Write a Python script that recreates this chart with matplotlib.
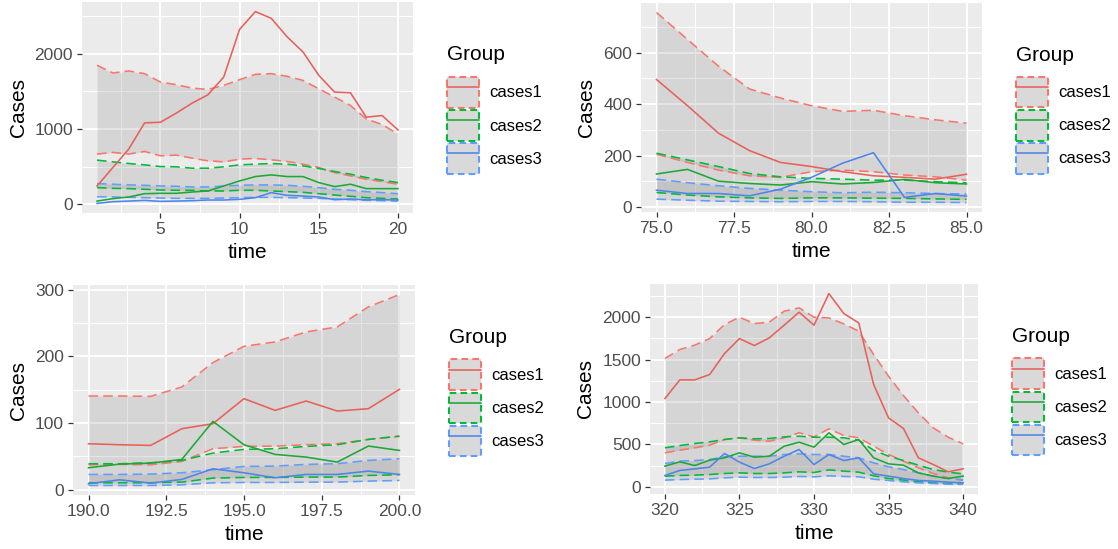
import numpy as np
import matplotlib
matplotlib.use("Agg")
import matplotlib.pyplot as plt
from matplotlib.patches import Patch
from matplotlib.lines import Line2D
from matplotlib.ticker import FixedLocator

plt.rcParams['font.family'] = ['Liberation Sans', 'DejaVu Sans']

GROUPS = ["cases1", "cases2", "cases3"]
COLOURS = ["#F8766D", "#00BA38", "#619CFF"]
LINE_COLOURS = ["#E8605A", "#1DA836", "#4C86E8"]

# ---- window 1: days 1-20 ----
p1_time = list(range(1, 21))
p1_cases1 = [244, 489, 733, 1080, 1089, 1209, 1342, 1453, 1689, 2320, 2556, 2467, 2222, 2022, 1711, 1489, 1480, 1156, 1178, 987]
p1_lo1 = [667, 689, 667, 702, 644, 653, 613, 578, 564, 600, 609, 591, 569, 533, 489, 422, 378, 333, 302, 267]
p1_hi1 = [1844, 1742, 1769, 1733, 1622, 1587, 1542, 1524, 1578, 1653, 1724, 1733, 1698, 1644, 1533, 1422, 1311, 1133, 1058, 933]
p1_cases2 = [44, 76, 98, 142, 147, 147, 164, 178, 244, 311, 369, 391, 369, 369, 289, 236, 267, 209, 209, 209]
p1_lo2 = [222, 213, 209, 200, 191, 187, 187, 178, 178, 187, 187, 178, 169, 160, 142, 124, 107, 89, 80, 71]
p1_hi2 = [587, 564, 542, 524, 502, 498, 480, 480, 498, 524, 533, 542, 533, 511, 476, 436, 400, 356, 320, 289]
p1_cases3 = [13, 36, 44, 53, 40, 44, 49, 58, 58, 67, 89, 156, 120, 111, 98, 62, 71, 62, 62, 58]
p1_lo3 = [102, 98, 93, 89, 84, 80, 80, 80, 84, 89, 93, 93, 89, 84, 80, 71, 62, 53, 49, 44]
p1_hi3 = [276, 267, 258, 253, 244, 240, 231, 231, 244, 253, 258, 258, 253, 240, 222, 200, 187, 169, 156, 142]

# ---- window 2: days 75-85 ----
p2_time = list(range(75, 86))
p2_cases1 = [496, 394, 287, 219, 173, 157, 137, 121, 115, 108, 127]
p2_lo1 = [205, 173, 143, 121, 115, 137, 143, 137, 124, 117, 104]
p2_hi1 = [757, 652, 548, 459, 424, 394, 372, 376, 355, 339, 326]
p2_cases2 = [128, 146, 100, 91, 85, 98, 89, 95, 107, 94, 89]
p2_lo2 = [56, 46, 39, 35, 33, 35, 35, 34, 33, 31, 29]
p2_hi2 = [209, 183, 157, 130, 117, 111, 108, 104, 104, 98, 94]
p2_cases3 = [65, 52, 52, 43, 69, 115, 170, 211, 37, 52, 42]
p2_lo3 = [30, 26, 22, 21, 20, 21, 21, 20, 18, 18, 17]
p2_hi3 = [108, 94, 82, 72, 65, 59, 55, 57, 55, 52, 50]

# ---- window 3: days 190-200 ----
p3_time = list(range(190, 201))
p3_cases1 = [69, 67.5, 66.5, 91.5, 99, 136.5, 119, 133, 118, 121.5, 150.5]
p3_lo1 = [37.5, 38, 37.5, 42.5, 61.5, 65, 65.5, 67.5, 69, 75.5, 80]
p3_hi1 = [140.5, 140.5, 140, 154, 190.5, 215, 221.5, 236.5, 244, 274, 292.5]
p3_cases2 = [33, 38.5, 40, 45.5, 102.5, 67.5, 53, 49, 41.5, 65.5, 59]
p3_lo2 = [10.5, 10.5, 10.5, 11.5, 17.5, 18.5, 18.5, 19, 19, 21.5, 22.5]
p3_hi2 = [39, 39, 40.5, 44, 55, 60.5, 61.5, 65, 67.5, 75.5, 80.5]
p3_cases3 = [9, 15, 10, 15.5, 31.5, 25.5, 18, 23, 23, 28, 23]
p3_lo3 = [6.5, 6.5, 6.5, 7.5, 10.5, 11, 11, 11.5, 11.5, 13, 14]
p3_hi3 = [23, 23, 23.5, 25.5, 30, 35, 35.5, 38, 39, 44, 46.5]

# ---- window 4: days 320-340 ----
p4_time = list(range(320, 341))
p4_cases1 = [1041, 1261, 1261, 1324, 1572, 1748, 1666, 1756, 1906, 2059, 1906, 2279, 2043, 1933, 1206, 813, 688, 342, 263, 177, 212]
p4_lo1 = [401, 432, 460, 491, 558, 578, 550, 538, 578, 637, 589, 684, 605, 578, 479, 381, 303, 224, 157, 106, 79]
p4_hi1 = [1513, 1619, 1670, 1748, 1913, 2000, 1925, 1941, 2071, 2110, 2000, 1992, 1921, 1835, 1560, 1304, 1077, 872, 695, 585, 507]
p4_cases2 = [244, 295, 251, 314, 342, 401, 350, 361, 479, 526, 468, 637, 499, 558, 342, 271, 255, 165, 126, 98, 126]
p4_lo2 = [126, 134, 138, 145, 157, 165, 157, 157, 165, 177, 169, 200, 185, 173, 130, 98, 79, 59, 47, 39, 31]
p4_hi2 = [460, 487, 511, 530, 558, 578, 566, 570, 589, 597, 585, 585, 578, 550, 432, 361, 310, 255, 204, 173, 153]
p4_cases3 = [134, 193, 212, 232, 393, 291, 216, 271, 361, 440, 263, 381, 310, 342, 153, 126, 98, 75, 67, 55, 47]
p4_lo3 = [79, 86, 90, 94, 106, 114, 110, 110, 114, 122, 118, 130, 122, 118, 90, 75, 59, 47, 39, 31, 28]
p4_hi3 = [275, 303, 310, 322, 354, 361, 361, 361, 381, 389, 381, 381, 361, 342, 283, 236, 204, 165, 126, 98, 79]

# axis breaks for each window
p1_xticks, p1_yticks = [5, 10, 15, 20], [0, 1000, 2000]
p2_xticks, p2_yticks = [75, 77.5, 80, 82.5, 85], [0, 200, 400, 600]
p3_xticks, p3_yticks = [190, 192.5, 195, 197.5, 200], [0, 100, 200, 300]
p4_xticks, p4_yticks = [320, 325, 330, 335, 340], [0, 500, 1000, 1500, 2000]

W, H = 1118, 549
DASH = (0, (6.0, 3.2))


def box(left, top, right, bottom):
    return [left / W, 1 - bottom / H, (right - left) / W, (bottom - top) / H]


def expand(lo, hi, mult=0.05):
    pad = (hi - lo) * mult
    return lo - pad, hi + pad


def minor_breaks(major, lo, hi):
    step = major[1] - major[0]
    mids = np.arange(major[0] - step / 2, hi + step, step)
    return [m for m in mids if lo <= m <= hi]


def draw_panel(ax, time, series, xticks, yticks, xfmt):
    ax.set_facecolor("#EBEBEB")
    for s in ax.spines.values():
        s.set_visible(False)

    # ribbons first (grey fill, dashed bounds), then the observed lines
    for (val, lo, hi), col in zip(series, COLOURS):
        ax.fill_between(time, lo, hi, color="#7F7F7F", alpha=0.2, lw=0, zorder=2)
        ax.plot(time, hi, color=col, lw=1.15, linestyle=DASH, zorder=3)
        ax.plot(time, lo, color=col, lw=1.15, linestyle=DASH, zorder=3)
    for (val, lo, hi), col in zip(series, LINE_COLOURS):
        ax.plot(time, val, color=col, lw=1.15, zorder=4)

    allv = np.concatenate([np.ravel(s) for s in series])
    xlim = expand(min(time), max(time))
    ylim = expand(allv.min(), allv.max())
    ax.set_xlim(xlim)
    ax.set_ylim(ylim)

    ax.set_xticks(xticks)
    ax.set_yticks(yticks)
    ax.set_xticklabels([xfmt.format(t) for t in xticks])
    ax.xaxis.set_minor_locator(FixedLocator(minor_breaks(xticks, *xlim)))
    ax.yaxis.set_minor_locator(FixedLocator(minor_breaks(yticks, *ylim)))
    ax.grid(True, which="major", color="white", lw=1.4, zorder=0)
    ax.grid(True, which="minor", color="white", lw=0.7, zorder=0)
    ax.set_axisbelow(True)
    ax.tick_params(which="major", length=3.4, width=0.9, color="#333333",
                   labelsize=12.5, labelcolor="#4D4D4D", pad=3)
    ax.tick_params(which="minor", length=0)

    ax.set_xlabel("time", fontsize=15, labelpad=4.5)
    ax.set_ylabel("Cases", fontsize=15, labelpad=5)

    # legend: dashed grey key with a solid line through it
    handles = []
    for col, lcol in zip(COLOURS, LINE_COLOURS):
        key = Patch(facecolor="#D9D9D9", edgecolor=col, lw=1.5, linestyle=(0, (3.2, 2.0)))
        handles.append((key, Line2D([], [], color=lcol, lw=1.15)))
    left, bottom, width, height = ax.get_position().bounds
    gx = 34 / (width * W)
    ax.legend(handles, GROUPS, loc="center left", bbox_to_anchor=(1 + gx, 0.415),
              frameon=False, fontsize=12, handlelength=1.9, handleheight=2.45,
              labelspacing=0.15, handletextpad=0.65, borderpad=0, borderaxespad=0)
    ax.text(1 + gx, 0.75, "Group", transform=ax.transAxes, fontsize=15,
            ha="left", va="center")


fig = plt.figure(figsize=(W / 100, H / 100), dpi=100)

ax1 = fig.add_axes(box(82, 2, 413, 213))
draw_panel(ax1, p1_time,
           [(p1_cases1, p1_lo1, p1_hi1), (p1_cases2, p1_lo2, p1_hi2), (p1_cases3, p1_lo3, p1_hi3)],
           p1_xticks, p1_yticks, "{:.0f}")

ax2 = fig.add_axes(box(641, 3, 982, 212))
draw_panel(ax2, p2_time,
           [(p2_cases1, p2_lo1, p2_hi1), (p2_cases2, p2_lo2, p2_hi2), (p2_cases3, p2_lo3, p2_hi3)],
           p2_xticks, p2_yticks, "{:.1f}")

ax3 = fig.add_axes(box(73, 285, 415, 495))
draw_panel(ax3, p3_time,
           [(p3_cases1, p3_lo1, p3_hi1), (p3_cases2, p3_lo2, p3_hi2), (p3_cases3, p3_lo3, p3_hi3)],
           p3_xticks, p3_yticks, "{:.1f}")

ax4 = fig.add_axes(box(650, 284, 978, 494))
draw_panel(ax4, p4_time,
           [(p4_cases1, p4_lo1, p4_hi1), (p4_cases2, p4_lo2, p4_hi2), (p4_cases3, p4_lo3, p4_hi3)],
           p4_xticks, p4_yticks, "{:.0f}")

fig.savefig("out.png", dpi=100)
